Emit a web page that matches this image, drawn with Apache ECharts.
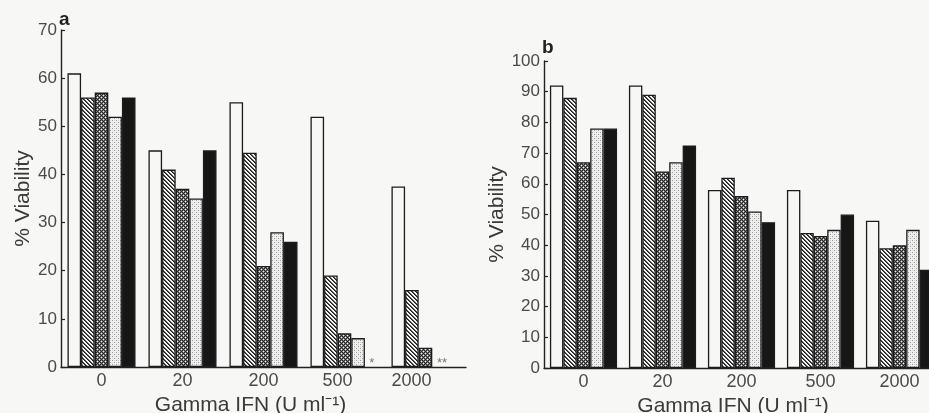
<!DOCTYPE html>
<html><head><meta charset="utf-8">
<script src="https://cdn.jsdelivr.net/npm/echarts@6/dist/echarts.min.js"></script>
<style>html,body{margin:0;padding:0;background:#f7f7f5}#c{width:929px;height:413px}</style>
</head><body><div id="c"></div>
<script>
// ---- data ----
const categories = ['0', '20', '200', '500', '2000'];
const yTicksA = [0, 70, 10];   // min, max, interval
const yTicksB = [0, 100, 10];

// panel a
const aWhite = [61, 45, 55, 52, 37.5];
const aHatch = [56, 41, 44.5, 19, 16];
const aCross = [57, 37, 21, 7, 4];
const aDot   = [52, 35, 28, 6, null];
const aBlack = [56, 45, 26, null, null];
const aDotNotes   = ['', '', '', '', '**'];
const aBlackNotes = ['', '', '', '*', ''];

// panel b
const bWhite = [92, 92, 58, 58, 48];
const bHatch = [88, 89, 62, 44, 39];
const bCross = [67, 64, 56, 43, 40];
const bDot   = [78, 67, 51, 45, 45];
const bBlack = [78, 72.5, 47.5, 50, 32];

// ---- patterns ----
function tile(size, bg, pix) {
  const c = document.createElement('canvas');
  c.width = size; c.height = size;
  const g = c.getContext('2d');
  g.fillStyle = bg; g.fillRect(0, 0, size, size);
  for (let y = 0; y < size; y++) for (let x = 0; x < size; x++) {
    const col = pix(x, y);
    if (col) { g.fillStyle = col; g.fillRect(x, y, 1, 1); }
  }
  return { image: c, repeat: 'repeat' };
}
const hatchPat = tile(4, '#f4f4f2', (x, y) => {
  const d = ((x - y) % 4 + 4) % 4;
  return d === 0 ? '#1e1e1e' : (d === 1 ? '#555' : null);
});
const crossPat = tile(4, '#262626', (x, y) => {
  if ((x === 1 && y === 1) || (x === 3 && y === 3)) return '#f2f2f2';
  if ((x + y) % 2 === 1) return '#7a7a7a';
  return null;
});
const dotPat = tile(4, '#f0f0ee', (x, y) => {
  if ((x === 0 && y === 0) || (x === 2 && y === 2)) return '#9a9a9a';
  if ((x === 2 && y === 0) || (x === 0 && y === 2)) return '#d6d6d6';
  return null;
});
const fills = ['#f7f7f5', hatchPat, crossPat, dotPat, '#161616'];

const border = { borderColor: '#1c1c1c', borderWidth: 1.3 };

function buildData(vals, notes) {
  return vals.map((v, i) => {
    if (v === null && notes && notes[i]) {
      return {
        value: 0,
        itemStyle: { color: 'rgba(0,0,0,0)', borderWidth: 0 },
        label: {
          show: true, position: 'top', formatter: notes[i], distance: 0,
          offset: notes[i] === '**' ? [3, 3] : [0, 3],
          color: '#777', fontSize: 13, fontFamily: 'Liberation Sans'
        }
      };
    }
    return v;
  });
}

function makeSeries(idx, arrays, notesArr, gap) {
  return arrays.map((arr, k) => ({
    type: 'bar',
    xAxisIndex: idx, yAxisIndex: idx,
    data: buildData(arr, notesArr[k]),
    barGap: '0%',
    barCategoryGap: gap,
    itemStyle: Object.assign({ color: fills[k] }, border),
    emphasis: { disabled: true },
    animation: false
  }));
}

const labelFont = { fontFamily: 'Liberation Sans', color: '#4a4a4a' };
function yAxis(idx, ticks, gap) {
  return {
    gridIndex: idx, type: 'value', min: ticks[0], max: ticks[1], interval: ticks[2],
    name: '% Viability', nameLocation: 'middle', nameGap: gap, nameRotate: 90,
    nameTextStyle: { fontSize: 21, fontFamily: 'Liberation Sans', color: '#3a3a3a' },
    axisLine: { show: true, lineStyle: { color: '#222', width: 1.4 } },
    axisTick: { show: true, inside: true, length: 4, lineStyle: { color: '#222', width: 1.2 } },
    axisLabel: Object.assign({ fontSize: 17, margin: 4 }, labelFont),
    splitLine: { show: false }
  };
}
function xAxis(idx, shift, labelShifts) {
  return {
    gridIndex: idx, type: 'category',
    data: categories.map((c, i) => labelShifts[i]
      ? { value: c, textStyle: { padding: [0, labelShifts[i], 0, 0] } } : c),
    name: 'Gamma IFN (U ml⁻¹)', nameLocation: 'middle', nameGap: 25,
    nameTextStyle: { fontSize: 21, fontFamily: 'Liberation Sans', color: '#3a3a3a', padding: [0, shift, 0, 0] },
    axisLine: { show: true, lineStyle: { color: '#222', width: 1.4 } },
    axisTick: { show: false },
    axisLabel: Object.assign({ fontSize: 18, margin: 5, interval: 0 }, labelFont),
    splitLine: { show: false }
  };
}

const chart = echarts.init(document.getElementById('c'), null, { renderer: 'canvas' });
chart.setOption({
  backgroundColor: '#f7f7f5',
  animation: false,
  title: [
    { text: 'a', left: 54, top: 5, textStyle: { fontSize: 19, fontWeight: 'bold', fontFamily: 'Liberation Sans', color: '#222' } },
    { text: 'b', left: 537, top: 33, textStyle: { fontSize: 19, fontWeight: 'bold', fontFamily: 'Liberation Sans', color: '#222' } }
  ],
  grid: [
    { left: 61, top: 30, width: 405, height: 337, outerBoundsMode: 'none', containLabel: false },
    { left: 544, top: 61, width: 395, height: 307, outerBoundsMode: 'none', containLabel: false }
  ],
  xAxis: [xAxis(0, 26, [0, 0, 0, 14, 28]), xAxis(1, 17, [0, 0, 0, 0, 0])],
  yAxis: [yAxis(0, yTicksA, 25), yAxis(1, yTicksB, 35)],
  series: [].concat(
    makeSeries(0, [aWhite, aHatch, aCross, aDot, aBlack], [null, null, null, aDotNotes, aBlackNotes], '16%'),
    makeSeries(1, [bWhite, bHatch, bCross, bDot, bBlack], [null, null, null, null, null], '15%')
  )
});
</script></body></html>
